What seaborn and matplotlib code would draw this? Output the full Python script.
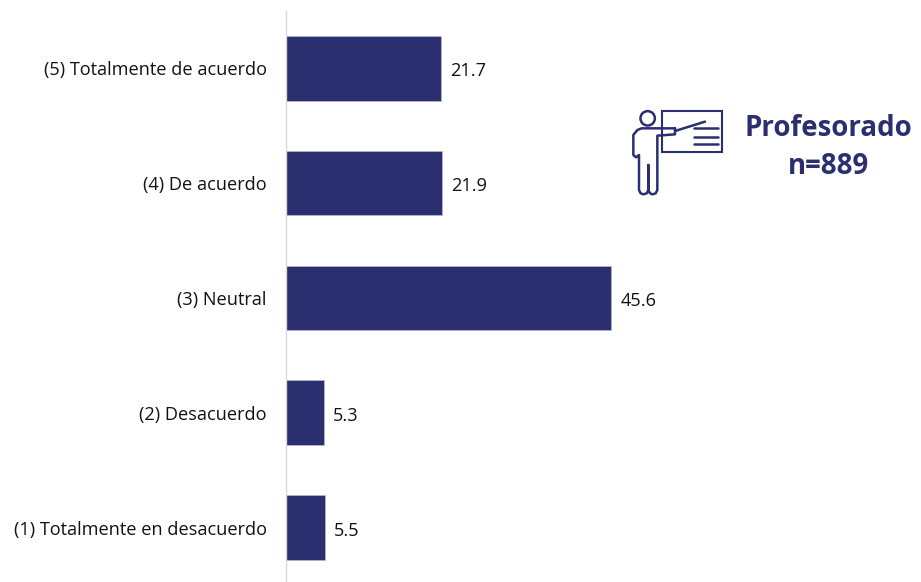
import seaborn as sns
import matplotlib.pyplot as plt
from matplotlib.patches import Circle, Rectangle

categories = ["(5) Totalmente de acuerdo", "(4) De acuerdo", "(3) Neutral",
              "(2) Desacuerdo", "(1) Totalmente en desacuerdo"]
values = [21.7, 21.9, 45.6, 5.3, 5.5]
navy = "#2b2f70"

sns.set_theme(style="white")
plt.rcParams["font.family"] = ["Open Sans", "DejaVu Sans"]

W, H = 921, 582
fig = plt.figure(figsize=(W / 100, H / 100), dpi=100)
ax = fig.add_axes([286 / W, 0, 1 - 286 / W, 1 - 11 / H])

sns.barplot(x=values, y=categories, color=navy, width=0.565, saturation=1, ax=ax,
            edgecolor="#b9bad6", linewidth=0.5)
ax.set_xlim(0, 89.05)
ax.set_ylim(4.47, -0.496)
ax.set_xticks([])
ax.set_xlabel("")
ax.set_ylabel("")
ax.tick_params(axis="y", length=0, pad=14, labelsize=13.1, labelcolor="#111111")
for s in ["top", "right", "bottom"]:
    ax.spines[s].set_visible(False)
ax.spines["left"].set_color("#d9d9d9")
ax.spines["left"].set_linewidth(1)

for c in ax.containers:
    labels = ax.bar_label(c, labels=[f"{v:.1f}" for v in values], padding=6.5, fontsize=13.1, color="#111111")
    for t in labels:
        t.xyann = (6.5, -2.2)

# overlay in pixel coordinates for the icon and the title
ov = fig.add_axes([0, 0, 1, 1], facecolor="none")
ov.set_xlim(0, W)
ov.set_ylim(H, 0)
ov.axis("off")


def zx(v):
    return 620 + v / 3


def zy(v):
    return 95 + v / 3


lw = 1.8
ov.add_patch(Rectangle((zx(125), zy(47)), 60, 41, fill=False, ec=navy, lw=1.5))
ov.add_patch(Circle((zx(83), zy(70)), 7.2, fill=False, ec=navy, lw=lw))
body_x = [165, 65, 52, 40, 40, 48, 57, 57, 62, 70, 80, 85, 85, 85, 90, 98, 107, 112, 112, 165, 165]
body_y = [100, 100, 105, 120, 180, 187, 180, 285, 295, 298, 295, 285, 210, 285, 295, 298, 295, 285, 122, 118, 100]
ov.plot([zx(v) for v in body_x], [zy(v) for v in body_y], color=navy, lw=lw, solid_joinstyle="round")
ov.plot([zx(165), zx(255)], [zy(108), zy(80)], color=navy, lw=lw, solid_capstyle="round")
for ly in [100, 125, 147]:
    ov.plot([zx(222), zx(295)], [zy(ly), zy(ly)], color=navy, lw=lw)

for label, ty in [("Profesorado", 129), ("n=889", 166)]:
    ov.text(828, ty, label, ha="center", va="center", fontsize=19.9, fontweight="bold",
            fontstretch="normal", color=navy)

fig.savefig("out.png", dpi=100, facecolor="white")
